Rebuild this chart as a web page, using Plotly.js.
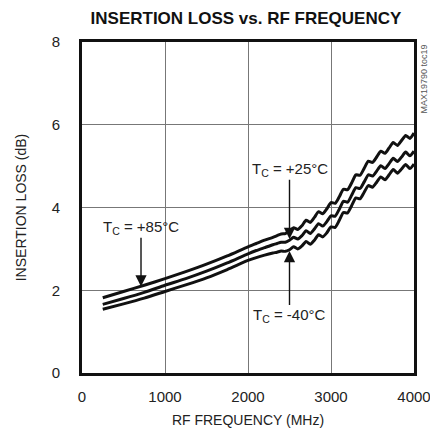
<!DOCTYPE html>
<html>
<head>
<meta charset="utf-8">
<script src="https://cdn.plot.ly/plotly-3.0.1.min.js"></script>
<style>html,body{margin:0;padding:0;background:#fff;}#chart{width:430px;height:436px;}</style>
</head>
<body>
<div id="chart"></div>
<script>
const freqMHz = [250,500,750,1000,1250,1500,1750,2000,2100,2200,2300,2350,
  2400,2450,2500,2550,2600,2650,2700,2750,2800,2850,2900,2950,3000,3050,3100,3150,3200,3250,
  3300,3350,3400,3450,3500,3550,3600,3650,3700,3750,3800,3850,3900,3950,4000];

const lossTc85 = [1.82,1.97,2.12,2.28,2.45,2.63,2.83,3.05,3.13,3.21,3.28,3.32,
  3.36,3.37,3.43,3.51,3.47,3.56,3.69,3.64,3.76,3.90,3.85,3.97,4.12,4.10,4.26,4.44,4.43,4.60,
  4.79,4.78,4.95,5.12,5.09,5.22,5.36,5.31,5.44,5.57,5.50,5.62,5.74,5.67,5.80];

const lossTc25 = [1.66,1.80,1.95,2.12,2.28,2.46,2.66,2.88,2.96,3.03,3.10,3.13,
  3.16,3.16,3.21,3.28,3.24,3.32,3.44,3.37,3.48,3.61,3.55,3.66,3.80,3.79,3.96,4.15,4.13,4.30,
  4.48,4.46,4.62,4.79,4.76,4.88,5.01,4.94,5.06,5.19,5.11,5.22,5.34,5.25,5.36];

const lossTcM40 = [1.54,1.67,1.81,1.97,2.13,2.30,2.50,2.72,2.79,2.85,2.90,2.92,
  2.95,2.94,2.98,3.05,3.00,3.07,3.18,3.11,3.21,3.34,3.29,3.39,3.53,3.52,3.69,3.88,3.87,4.05,
  4.23,4.21,4.37,4.53,4.49,4.61,4.74,4.67,4.79,4.92,4.83,4.93,5.04,4.94,5.05];

const xTicks = [0,1000,2000,3000,4000];
const yTicks = [0,2,4,6,8];

const FONT = '"Liberation Sans", Arial, sans-serif';

const mk = (y, name) => ({
  x: freqMHz, y: y, name: name, type: 'scatter', mode: 'lines',
  line: {color: '#111', width: 3, shape: 'spline', smoothing: 0.6},
  hoverinfo: 'x+y'
});

const data = [mk(lossTc85, 'TC = +85°C'), mk(lossTc25, 'TC = +25°C'), mk(lossTcM40, 'TC = -40°C')];

// text centred at (tx, ty), arrow pointing at (px, py)
const callout = (txt, tx, ty, px, py) => ({
  x: px, y: py, ax: tx, ay: ty, xref: 'x', yref: 'y', axref: 'x', ayref: 'y',
  text: txt, showarrow: true, arrowhead: 2, arrowsize: 1.6, arrowwidth: 1.4, arrowcolor: '#111',
  font: {family: FONT, size: 15, color: '#222'}, borderpad: 0
});

const layout = {
  width: 430, height: 436,
  margin: {l: 82, r: 16, t: 42, b: 63},
  paper_bgcolor: '#fff', plot_bgcolor: '#fff',
  showlegend: false,
  font: {family: FONT, size: 15, color: '#222'},
  title: {text: 'INSERTION LOSS vs. RF FREQUENCY', x: 0.572, xanchor: 'center', y: 0.958, yanchor: 'middle',
          font: {family: FONT, size: 17, color: '#111', weight: 'bold'}},
  xaxis: {
    range: [0, 4000], tickvals: xTicks, ticktext: xTicks.map(String), ticks: '',
    showgrid: true, gridcolor: '#777', gridwidth: 1, zeroline: false,
    showline: true, linecolor: '#111', linewidth: 3, mirror: true,
    tickfont: {family: FONT, size: 15, color: '#222'}, ticklabelstandoff: 8,
    ticklabeloverflow: 'allow',
    title: {text: 'RF FREQUENCY (MHz)', font: {family: FONT, size: 14, color: '#222'}, standoff: 12}
  },
  yaxis: {
    range: [0, 8], tickvals: yTicks, ticktext: yTicks.map(String), ticks: '',
    showgrid: true, gridcolor: '#777', gridwidth: 1, zeroline: false,
    showline: true, linecolor: '#111', linewidth: 3, mirror: true,
    tickfont: {family: FONT, size: 15, color: '#222'}, ticklabelstandoff: 16,
    title: {text: 'INSERTION LOSS (dB)', font: {family: FONT, size: 14, color: '#222'}, standoff: 22}
  },
  annotations: [
    callout('T<sub>C</sub> = +85°C', 711, 3.51, 711, 2.09),
    callout('T<sub>C</sub> = +25°C', 2500, 4.91, 2500, 3.24),
    callout('T<sub>C</sub> = -40°C', 2500, 1.40, 2500, 2.95),
    {xref: 'paper', yref: 'paper', x: 1.03, y: 1.0, xanchor: 'center', yanchor: 'top',
     text: 'MAX19790 toc19', textangle: -90, showarrow: false,
     font: {family: FONT, size: 9, color: '#555'}}
  ]
};

Plotly.newPlot('chart', data, layout, {displayModeBar: false, staticPlot: true});
</script>
</body>
</html>
